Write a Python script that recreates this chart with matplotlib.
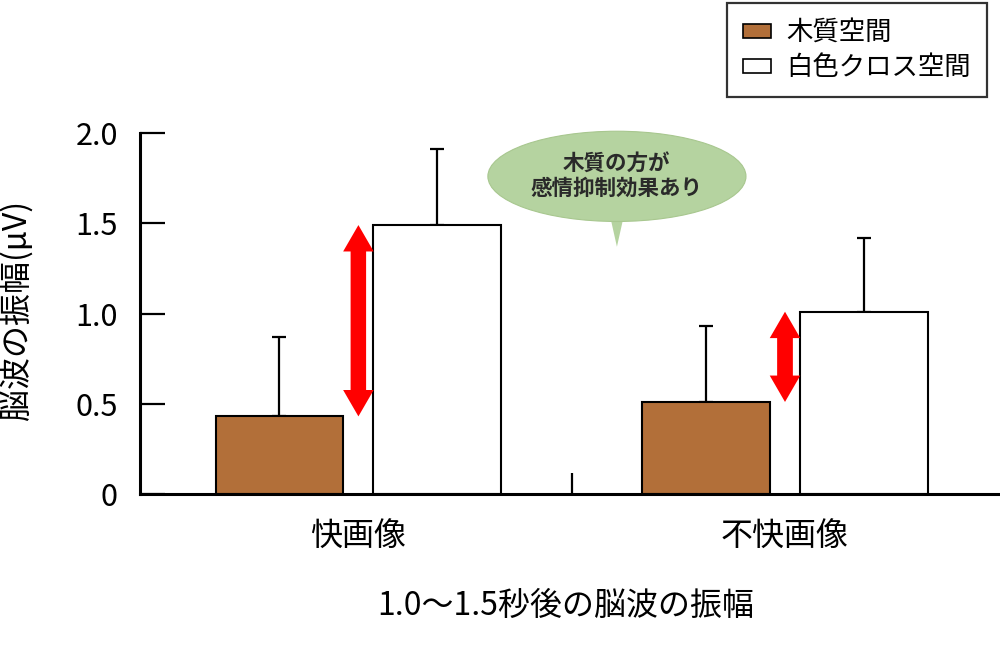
import numpy as np
import matplotlib
matplotlib.use("Agg")
import matplotlib.pyplot as plt
from matplotlib.patches import Ellipse, Polygon, FancyArrowPatch, Patch

plt.rcParams['font.family'] = ['Noto Sans CJK JP', 'DejaVu Sans']

# data
groups = ["快画像", "不快画像"]
wood = [0.43, 0.51]          # 木質空間
wood_err = [0.44, 0.42]
cloth = [1.49, 1.01]         # 白色クロス空間
cloth_err = [0.42, 0.41]
series_names = ["木質空間", "白色クロス空間"]
yticks = [0, 0.5, 1.0, 1.5, 2.0]
ytick_labels = ["0", "0.5", "1.0", "1.5", "2.0"]

brown = '#b26f39'
green = '#b5d3a0'

fig = plt.figure(figsize=(10, 6.55), dpi=100)
ax = fig.add_axes([0.14, 0.2458, 0.86, 0.5511])

x = np.arange(len(groups))
w = 0.30
off = 0.185

ax.bar(x - off, wood, w, color=brown, edgecolor='black', linewidth=1.5, zorder=2)
ax.bar(x + off, cloth, w, color='white', edgecolor='black', linewidth=1.5, zorder=2)
ax.errorbar(x - off, wood, yerr=[np.zeros(2), wood_err], fmt='none', ecolor='black',
            elinewidth=1.6, capsize=5, capthick=1.6, zorder=1)
ax.errorbar(x + off, cloth, yerr=[np.zeros(2), cloth_err], fmt='none', ecolor='black',
            elinewidth=1.6, capsize=5, capthick=1.6, zorder=1)

# red double arrows between the two bars of each group
# two full-length single arrows, tails shrunk by the head length so they overlap cleanly
style = 'simple,head_width=2.2,head_length=1.9,tail_width=1.1'
for i in range(len(groups)):
    for a, b in ((wood[i], cloth[i]), (cloth[i], wood[i])):
        arr = FancyArrowPatch((x[i], a), (x[i], b), arrowstyle=style,
                              mutation_scale=10, color='red', lw=0,
                              shrinkA=18, shrinkB=0, zorder=3)
        ax.add_patch(arr)

# speech bubble
bub_x, bub_y = 0.606, 1.76
ax.add_patch(Polygon([[bub_x - 0.018, bub_y - 0.2], [bub_x + 0.018, bub_y - 0.2], [bub_x, 1.37]],
                     closed=True, facecolor=green, edgecolor='none', zorder=4, clip_on=False))
ax.add_patch(Ellipse((bub_x, bub_y), 0.605, 0.5, facecolor=green, edgecolor='#a8c78f',
                     linewidth=0.8, zorder=4, clip_on=False))
ax.text(bub_x, bub_y, "木質の方が\n感情抑制効果あり", ha='center', va='center',
        fontsize=15.5, fontweight='bold', linespacing=1.15, zorder=5, color='#2a2a2a')

ax.set_xlim(-0.512, 1.504)
ax.set_ylim(0, 2.0)

for s in ['top', 'right']:
    ax.spines[s].set_visible(False)
ax.spines['left'].set_linewidth(2.2)
ax.spines['bottom'].set_linewidth(2.2)

ax.set_yticks(yticks)
ax.set_yticklabels(ytick_labels)
ax.tick_params(axis='y', direction='in', length=18, width=1.6, pad=16, labelsize=22)

ax.set_xticks(x)
ax.set_xticklabels(groups)
ax.tick_params(axis='x', which='major', length=0, pad=19, labelsize=23)
ax.set_xticks([0.5], minor=True)
ax.tick_params(axis='x', which='minor', direction='in', length=15, width=1.6)

ax.set_xlabel("1.0〜1.5秒後の脳波の振幅", fontsize=23)
ax.xaxis.set_label_coords(0.495, -0.31)
ax.xaxis.label.set_va('center')
ax.set_ylabel("脳波の振幅(μV)", fontsize=23)
ax.yaxis.set_label_coords(-0.143, 0.51)
ax.yaxis.label.set_va('center')

handles = [Patch(facecolor=brown, edgecolor='black', linewidth=1.2),
           Patch(facecolor='white', edgecolor='black', linewidth=1.2)]
leg = fig.legend(handles, series_names, loc='upper right', bbox_to_anchor=(0.987, 0.995),
                 fontsize=19, frameon=True, fancybox=False, edgecolor='black',
                 handlelength=1.06, handleheight=0.45, handletextpad=0.6,
                 borderpad=0.6, labelspacing=0.3, borderaxespad=0)
leg.get_frame().set_linewidth(1.6)

fig.savefig("out.png", dpi=100)
